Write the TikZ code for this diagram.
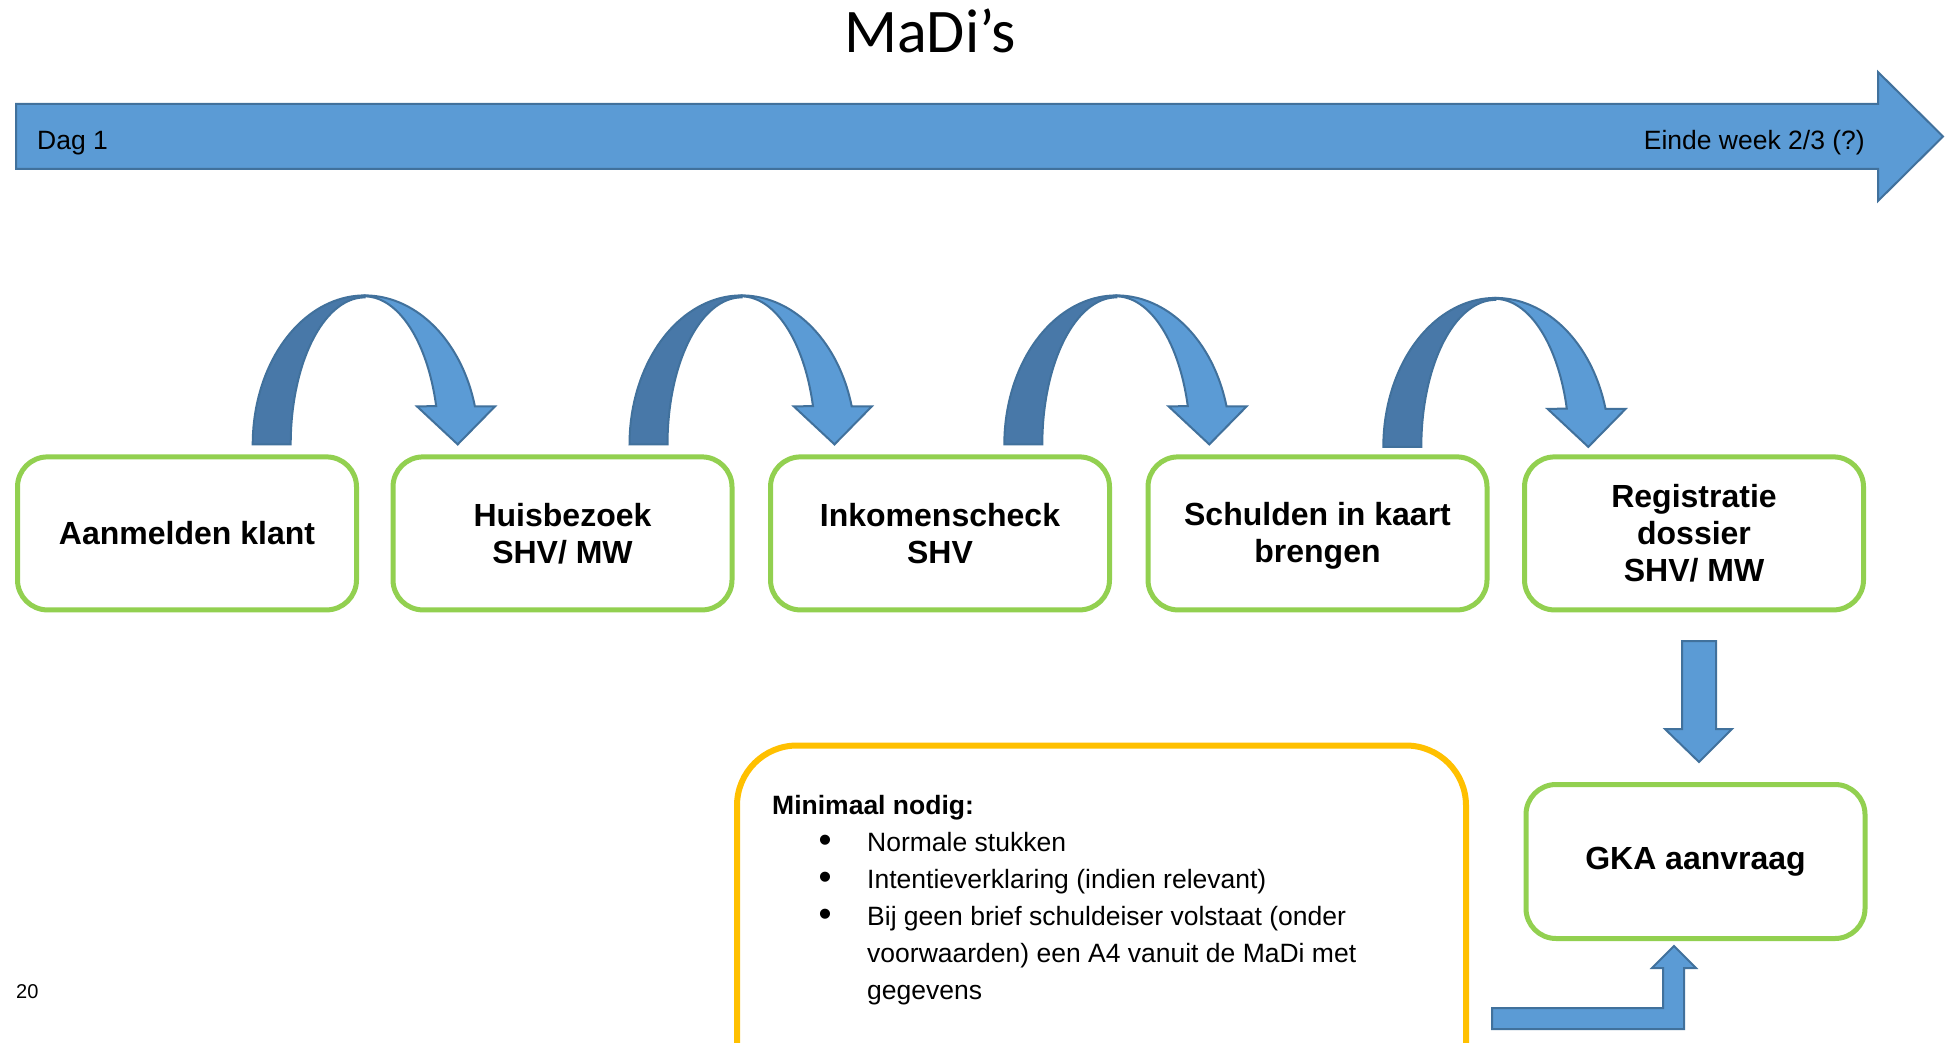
\documentclass[tikz,border=0pt]{standalone}
\usepackage{fontspec}
\usepackage{graphicx}
\setmainfont{Liberation Sans}
\newfontfamily\titlefont{Carlito}
\usetikzlibrary{calc}
\definecolor{arrowfill}{HTML}{5B9BD5}
\definecolor{arrowline}{HTML}{41719C}
\definecolor{arrowdark}{HTML}{4878A8}
\definecolor{stepgreen}{HTML}{92D050}
\definecolor{noteyellow}{HTML}{FFC000}
\newcommand\reqitem{\leavevmode\llap{\makebox[84pt]{\raisebox{-1.5pt}{\scalebox{1.4}{\textbullet}}}}}
\tikzset{
  stepbox/.style={draw=stepgreen, line width=5pt, rounded corners=30pt, fill=white,
    minimum width=339pt, minimum height=153pt, align=center, inner sep=0pt,
    font=\fontsize{32}{37}\selectfont\bfseries},
  blockarrow/.style={fill=arrowfill, draw=arrowline, line width=2pt, line join=miter},
  % curved "U-turn" block arrow, origin at the bottom of its outer left leg
  uturn/.pic={
    \path[blockarrow, fill=arrowdark]
      plot[domain=180:270, samples=40] ({112+112*cos(\x)},{149*sin(\x)})
      -- plot[domain=270:180, samples=40] ({112+74*cos(\x)},{147*sin(\x)}) -- cycle;
    \path[blockarrow]
      plot[domain=270:345.2, samples=40] ({112+114*cos(\x)},{149*sin(\x)})
      -- (242.3,-38) -- (205,0) -- (164.3,-38)
      -- plot[domain=345:270, samples=40] ({112+74*cos(\x)},{148*sin(\x)}) -- cycle;
  }
}
\begin{document}
\begin{tikzpicture}[x=1pt, y=-1pt]
\clip (0,0) rectangle (1946,1043);
\fill[white] (0,0) rectangle (1946,1043);

% title
\node[font=\titlefont\fontsize{62}{70}\selectfont, anchor=base, inner sep=0pt] (title) at (930,53) {MaDi’s};

% time line
\path[blockarrow] (16,104) -- (1878,104) -- (1878,72) -- (1943,136.5) -- (1878,201) -- (1878,169) -- (16,169) -- cycle;
\node[anchor=base west, inner sep=0pt, font=\fontsize{26.5}{30}\selectfont] (start) at (37,149.5) {Dag 1};
\node[anchor=base east, inner sep=0pt, font=\fontsize{26.5}{30}\selectfont] (finish) at (1865,149.5) {Einde week 2/3 (?)};

% process steps
\node[stepbox] (b1) at (187,533.4) {Aanmelden klant};
\node[stepbox] (b2) at (562.5,533.4) {Huisbezoek\\SHV/ MW};
\node[stepbox] (b3) at (940,533.4) {Inkomenscheck\\SHV};
\node[stepbox, text depth=2pt] (b4) at (1317.5,533.4) {Schulden in kaart\\brengen};
\node[stepbox] (b5) at (1694,533.4) {Registratie\\dossier\\SHV/ MW};
\node[stepbox, minimum height=154pt] (gka) at (1695.5,861.5) {GKA aanvraag};

% curved arrows between the steps
\pic at ($(b1.north)+(65.7,-10)$) {uturn};
\pic at ($(b2.north)+(67,-10)$) {uturn};
\pic at ($(b3.north)+(64.3,-10)$) {uturn};
\pic at ($(b4.north)+(65.8,-7.5)$) {uturn};

% down arrow to GKA
\path[blockarrow] (1682,641) -- (1716,641) -- (1716,729) -- (1732,729) -- (1699,762)
  -- (1665,729) -- (1682,729) -- cycle;

% requirements box
\node[draw=noteyellow, line width=6pt, rounded corners=60pt, fill=white,
  minimum width=729pt, minimum height=374pt, inner sep=0pt] (req) at (1101.5,932.5) {};
\node[anchor=base west, inner sep=0pt, font=\fontsize{26.5}{37}\selectfont] (reqtext) at (772,814)
{\begin{minipage}[t]{660pt}\setlength{\parindent}{0pt}\fontsize{26.5}{37}\selectfont
{\bfseries Minimaal nodig:}\par
\leftskip=95pt
\reqitem Normale stukken\par
\reqitem Intentieverklaring (indien relevant)\par
\reqitem Bij geen brief schuldeiser volstaat (onder\newline
voorwaarden) een A4 vanuit de MaDi met\newline
gegevens\par
\end{minipage}};

% bent arrow from the requirements into GKA
\path[blockarrow] (1492,1008) -- (1663,1008) -- (1663,968) -- (1652,968) -- (1674,946)
  -- (1696,968) -- (1684,968) -- (1684,1029) -- (1492,1029) -- cycle;

% page number
\node[anchor=base west, inner sep=0pt, font=\fontsize{20}{24}\selectfont] (page) at (16,998) {20};
\end{tikzpicture}
\end{document}
